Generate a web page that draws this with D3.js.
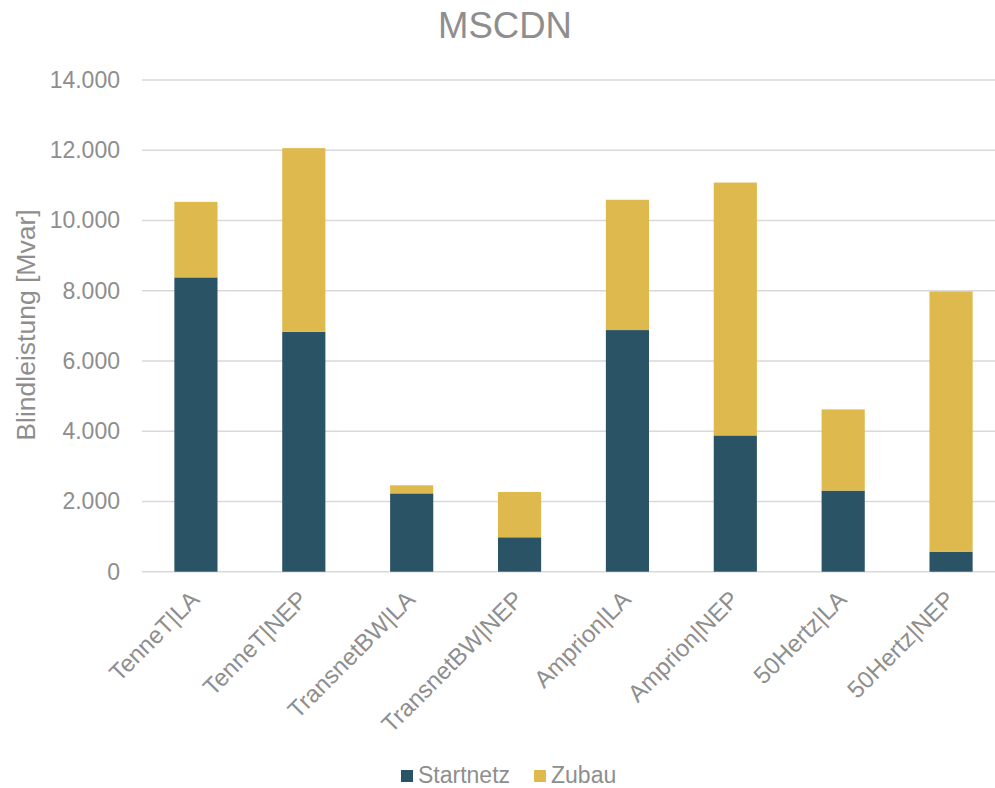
<!DOCTYPE html>
<html>
<head>
<meta charset="utf-8">
<script src="https://cdn.jsdelivr.net/npm/d3@7"></script>
<style>
  html, body { margin: 0; padding: 0; background: #fff; overflow: hidden; }
  svg { display: block; font-family: Arial, "Liberation Sans", sans-serif; }
</style>
</head>
<body>
<svg id="chart" width="995" height="788"></svg>
<script>
const categories = ["TenneT|LA", "TenneT|NEP", "TransnetBW|LA", "TransnetBW|NEP", "Amprion|LA", "Amprion|NEP", "50Hertz|LA", "50Hertz|NEP"];
const startnetz = [8380, 6830, 2230, 980, 6880, 3880, 2310, 570];
const zubau = [2150, 5230, 230, 1290, 3710, 7200, 2310, 7410];
const seriesNames = ["Startnetz", "Zubau"];
const yTicks = [0, 2000, 4000, 6000, 8000, 10000, 12000, 14000];
const title = "MSCDN";
const yTitle = "Blindleistung [Mvar]";

const colors = ["#2B5366", "#DEB94D"];
const textColor = "#8e8e8e";

const svg = d3.select("#chart");
const W = 995, H = 788;

const x = d3.scaleBand().domain(categories).range([142, 1005]).padding(0);
const y = d3.scaleLinear().domain([0, 14000]).range([571.7, 80]);

const rows = categories.map((c, i) => ({ cat: c, Startnetz: startnetz[i], Zubau: zubau[i] }));
const stacked = d3.stack().keys(seriesNames)(rows);

// gridlines
svg.append("g").selectAll("line").data(yTicks).join("line")
  .attr("x1", 142).attr("x2", W)
  .attr("y1", d => y(d)).attr("y2", d => y(d))
  .attr("stroke", "#d9d9d9").attr("stroke-width", 1.5);

// bars
const barW = x.step() * 0.4;
svg.append("g").selectAll("g").data(stacked).join("g")
  .attr("fill", (d, i) => colors[i])
  .selectAll("rect").data(d => d).join("rect")
  .attr("x", d => x(d.data.cat) + x.bandwidth() / 2 - barW / 2)
  .attr("width", barW)
  .attr("y", d => y(d[1]))
  .attr("height", d => y(d[0]) - y(d[1]));

// y tick labels
const yAxis = d3.axisLeft(y).tickValues(yTicks)
  .tickFormat(d => d3.format(",")(d).replace(/,/g, "."))
  .tickSize(0).tickPadding(0);
const yg = svg.append("g").attr("transform", "translate(120,0)").call(yAxis);
yg.select(".domain").remove();
yg.selectAll("text").attr("font-size", 23).attr("fill", textColor)
  .attr("font-family", "Arial, 'Liberation Sans', sans-serif");

// x labels
const xAxis = d3.axisBottom(x).tickSize(0).tickPadding(0);
const xg = svg.append("g").attr("transform", "translate(0,572)").call(xAxis);
xg.select(".domain").remove();
xg.selectAll("text")
  .attr("font-size", 24).attr("fill", textColor)
  .attr("font-family", "Arial, 'Liberation Sans', sans-serif")
  .attr("text-anchor", "end")
  .attr("dy", null).attr("y", 0)
  .attr("transform", "translate(5,29) rotate(-45)");

// title
svg.append("text").attr("x", 505).attr("y", 38).attr("text-anchor", "middle")
  .attr("font-size", 36.5).attr("fill", textColor).text(title);

// y title
svg.append("text").attr("transform", "translate(35,325) rotate(-90)")
  .attr("text-anchor", "middle").attr("font-size", 26.5).attr("fill", textColor).text(yTitle);

// legend
const legendX = [401, 534];
const lg = svg.append("g").selectAll("g").data(seriesNames).join("g")
  .attr("transform", (d, i) => `translate(${legendX[i]},770)`);
lg.append("rect").attr("width", 12).attr("height", 12).attr("fill", (d, i) => colors[i]);
lg.append("text").attr("x", 17).attr("y", 13).attr("font-size", 23)
  .attr("fill", textColor).text(d => d);
</script>
</body>
</html>
